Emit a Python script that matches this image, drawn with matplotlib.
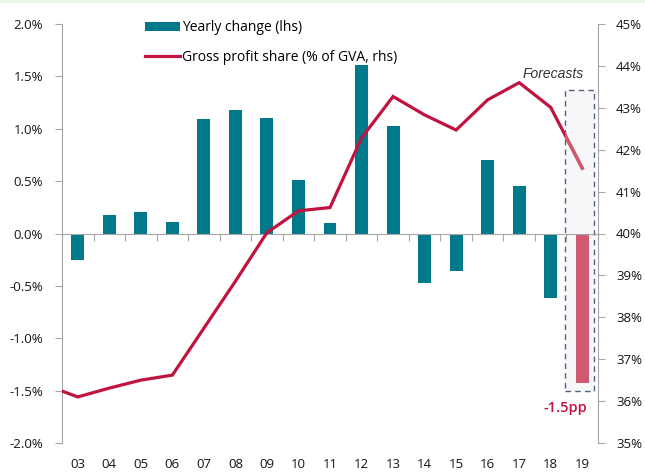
import matplotlib
matplotlib.use("Agg")
import matplotlib.pyplot as plt
from matplotlib.patches import Rectangle
from matplotlib.ticker import FuncFormatter, FixedLocator

plt.rcParams['font.family'] = ['Open Sans', 'DejaVu Sans']

# data
years = ["03", "04", "05", "06", "07", "08", "09", "10", "11",
         "12", "13", "14", "15", "16", "17", "18", "19"]
yearly_change = [-0.25, 0.18, 0.21, 0.11, 1.09, 1.18, 1.10, 0.51, 0.10,
                 1.61, 1.03, -0.47, -0.36, 0.70, 0.45, -0.62, -1.43]
# profit share line also has a 2002 point (only the tail is visible)
share_years = ["02"] + years
profit_share = [36.38, 36.10, 36.31, 36.50, 36.62, 37.74, 38.86, 40.02, 40.54,
                40.62, 42.28, 43.27, 42.83, 42.47, 43.19, 43.60, 43.01, 41.56]
forecast_label = "-1.5pp"

teal = "#00798A"
crimson = "#C0143F"
pink = "#CF5A70"
spine_gray = "#A6A6A6"
text_col = "#151515"

fig = plt.figure(figsize=(6.45, 4.72), dpi=100)
fig.patches.append(Rectangle((0, 1 - 3 / 472), 1, 3 / 472, transform=fig.transFigure,
                             facecolor="#EAF4EA", edgecolor="none"))
ax = fig.add_axes([62 / 645, 1 - 443 / 472, (598 - 62) / 645, (443 - 24) / 472])
ax2 = ax.twinx()

x = list(range(len(years)))
xs = [i - 1 for i in range(len(share_years))]

# forecast box behind the bars
box = Rectangle((15.45, -1.505), 0.93, 1.37 + 1.505, facecolor="#F7F7F9",
                edgecolor="#4F6284", linestyle=(0, (4, 3)), linewidth=1.0, zorder=1)
ax.add_patch(box)

colors = [teal] * (len(years) - 1) + [pink]
bars = ax.bar(x, yearly_change, width=0.41, color=colors, zorder=2,
              label="Yearly change (lhs)")

line, = ax2.plot(xs, profit_share, color=crimson, linewidth=2.3,
                 solid_joinstyle="miter", label="Gross profit share (% of GVA, rhs)")
fc, = ax2.plot(xs[-2:], profit_share[-2:], color=pink, linewidth=2.3, zorder=3)
fc.set_clip_path(box)

ax.set_xlim(-0.5, len(years) - 0.5)
ax.set_ylim(-2.0, 2.0)
ax2.set_ylim(35, 45)
ax.set_yticks([-2.0, -1.5, -1.0, -0.5, 0.0, 0.5, 1.0, 1.5, 2.0])
ax.yaxis.set_major_formatter(FuncFormatter(lambda v, p: f"{v:.1f}%".replace("\u2212", "-")))
ax2.set_yticks(range(35, 46))
ax2.yaxis.set_major_formatter(FuncFormatter(lambda v, p: f"{v:.0f}%"))

for a in (ax, ax2):
    for s in a.spines.values():
        s.set_color(spine_gray)
    a.spines['top'].set_visible(False)
ax.spines['right'].set_visible(False)
ax2.spines['left'].set_visible(False)
ax2.spines['bottom'].set_visible(False)
ax.spines['bottom'].set_position(('data', 0))

ax.tick_params(axis='y', length=5, color=spine_gray, labelsize=9.5, labelcolor=text_col, pad=8.5)
ax2.tick_params(axis='y', length=5, color=spine_gray, labelsize=9.5, labelcolor=text_col, pad=8)

# boundary ticks on zero line, labels at the bottom
ax.xaxis.set_major_locator(FixedLocator([i - 0.5 for i in range(len(years) + 1)]))
ax.tick_params(axis='x', length=5, color=spine_gray, labelbottom=False)
sec = ax.secondary_xaxis('bottom')
sec.set_xticks(x, years)
sec.spines['bottom'].set_visible(False)
sec.tick_params(axis='x', length=0, labelsize=9.5, labelcolor=text_col, pad=11)

ax.text(15.07, 1.52, "Forecasts", style="italic", fontsize=10, color="#333333",
        ha="center", va="center", family="Liberation Sans")
ax.text(15.48, -1.67, forecast_label, fontsize=10.5, color=crimson, ha="center",
        va="center", fontweight="semibold")

fig.legend(handles=[bars, line], loc="upper left", bbox_to_anchor=(145 / 645, 1 - 20 / 472),
           frameon=False, fontsize=10, handlelength=2.5, handleheight=0.6,
           handletextpad=0.15, labelspacing=1.05, borderpad=0, borderaxespad=0)

fig.savefig("out.png", dpi=100)
